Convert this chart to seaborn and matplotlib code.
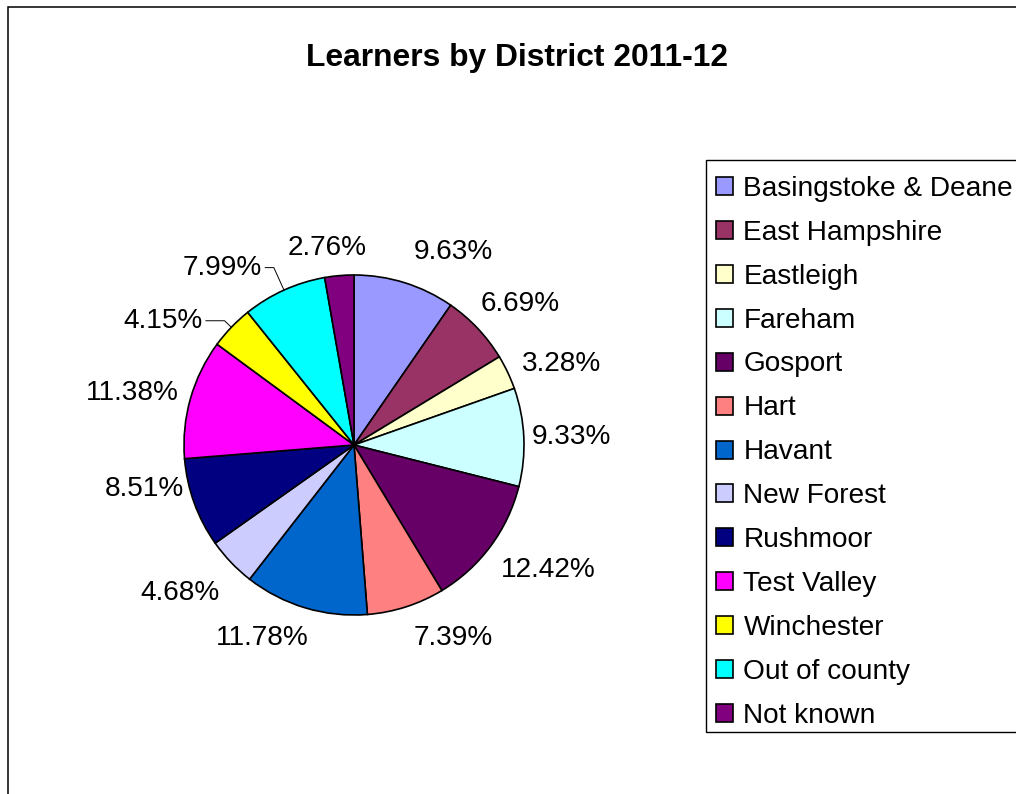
import numpy as np
import matplotlib
matplotlib.use("Agg")
import matplotlib.pyplot as plt
from matplotlib.patches import Rectangle
import seaborn as sns

# Learner share by district, percent
districts = ["Basingstoke & Deane", "East Hampshire", "Eastleigh", "Fareham",
             "Gosport", "Hart", "Havant", "New Forest", "Rushmoor",
             "Test Valley", "Winchester", "Out of county", "Not known"]
shares = [9.63, 6.69, 3.28, 9.33, 12.42, 7.39, 11.78, 4.68, 8.51,
          11.38, 4.15, 7.99, 2.76]

colors = ["#9999FF", "#993366", "#FFFFCC", "#CCFFFF", "#660066", "#FF8080",
          "#0066CC", "#CCCCFF", "#000080", "#FF00FF", "#FFFF00", "#00FFFF",
          "#800080"]

# label placement: angular nudge (deg) and radial distance (in pie radii)
label_nudge = [-9.9, -2.8, -4.0, -0.5, 3.7, 9.4, -8.8, -3.3, -8.0, 2.8, 10.8, 12.3, 2.8]
label_dist = [1.276, 1.282, 1.312, 1.282, 1.359, 1.276, 1.259, 1.341, 1.259,
              1.341, 1.341, 1.30, 1.171]
leader = [False] * 10 + [True, True, False]

sns.set_theme(style="white")
plt.rcParams["font.family"] = ["Liberation Sans", "DejaVu Sans"]
plt.rcParams["text.color"] = "black"

W, H = 1016, 794
fig = plt.figure(figsize=(W / 100, H / 100), dpi=100)
fig.patch.set_facecolor("white")

# chart-area border (extends past right and bottom edges)
fig.patches.append(Rectangle((7.5 / W, -0.2), 1.5, 1.2 - 7.5 / H,
                             transform=fig.transFigure, fill=False,
                             edgecolor="black", linewidth=1.1, clip_on=False))
# legend box (runs off the right edge)
fig.patches.append(Rectangle((705.5 / W, 1 - 732 / H), 0.5, (732 - 160) / H,
                             transform=fig.transFigure, facecolor="white",
                             edgecolor="black", linewidth=1.0, clip_on=False))

R = 170.0
cx, cy = 354.0, 445.0
half = 1.6 * R
ax = fig.add_axes([(cx - half) / W, (H - cy - half) / H, 2 * half / W, 2 * half / H])

wedges, _ = ax.pie(shares, colors=colors, startangle=90, counterclock=False,
                   radius=1.0,
                   wedgeprops=dict(edgecolor="black", linewidth=1.2))
ax.set_xlim(-1.6, 1.6)
ax.set_ylim(-1.6, 1.6)
ax.set_aspect("equal")
ax.axis("off")

for w, val, nud, dist, lead in zip(wedges, shares, label_nudge, label_dist, leader):
    mid = np.deg2rad((w.theta1 + w.theta2) / 2.0)
    ang = mid + np.deg2rad(nud)
    tx, ty = dist * np.cos(ang), dist * np.sin(ang)
    txt = f"{val:.2f}%"
    if lead:
        ax.annotate(txt, xy=(np.cos(mid), np.sin(mid)), xytext=(tx, ty),
                    ha="center", va="center", fontsize=20.2, color="black",
                    arrowprops=dict(arrowstyle="-", color="black", lw=0.7,
                                    relpos=(1.0, 0.5), shrinkA=0, shrinkB=0,
                                    connectionstyle=f"angle,angleA=0,angleB={np.rad2deg(mid):.2f},rad=0"))
    else:
        ax.text(tx, ty, txt, ha="center", va="center", fontsize=20.2, color="black")

fig.text(517 / W, 1 - 58 / H, "Learners by District 2011-12", ha="center", va="center",
         fontsize=22.9, fontweight="bold", color="black")

leg = fig.legend(wedges, districts, loc="upper left",
                 bbox_to_anchor=(705.5 / W, 1 - 165 / H), bbox_transform=fig.transFigure,
                 borderaxespad=0, fontsize=20.2, frameon=False,
                 handlelength=0.61, handleheight=0.61,
                 handletextpad=0.36, labelspacing=0.64, borderpad=0.38,
                 labelcolor="black")

fig.savefig("out.png", dpi=100, facecolor="white")
